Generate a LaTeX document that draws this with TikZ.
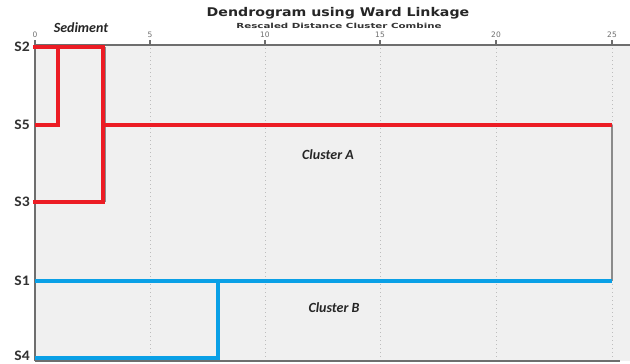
\documentclass[tikz,border=0pt]{standalone}
\usepackage{fontspec}
\setmainfont{Carlito}
\newfontfamily\titlefont{DejaVu Sans}
\definecolor{bggray}{HTML}{F0F0F0}
\definecolor{axisgray}{HTML}{6E6E6E}
\definecolor{gridgray}{HTML}{BDBDBD}
\definecolor{clred}{HTML}{EC1C24}
\definecolor{clblue}{HTML}{0AA0E6}
\tikzset{
  axisline/.style={draw=axisgray,line width=1.8pt},
  gridline/.style={draw=gridgray,line width=1pt,dash pattern=on 1pt off 3pt},
  redlink/.style={draw=clred,line width=3.6pt},
  bluelink/.style={draw=clblue,line width=3.6pt},
  shadowlink/.style={draw=axisgray!80,line width=1.6pt},
  leaflabel/.style={font=\bfseries\fontsize{14.5}{15}\selectfont,text=black!80,anchor=east,inner sep=0pt,xscale=1.08},
  ticklabel/.style={font=\titlefont\fontsize{7.5}{8}\selectfont,text=axisgray,inner sep=0pt},
  clusterlabel/.style={font=\bfseries\itshape\fontsize{14}{15}\selectfont,text=black!85,inner sep=0pt},
}
\begin{document}
\begin{tikzpicture}[x=1pt,y=-1pt]
\useasboundingbox (0,0) rectangle (630,364);
\fill[white] (0,0) rectangle (630,364);
\fill[bggray] (35,45) rectangle (630,361);
% grid
\foreach \v/\xx in {5/150,10/265,15/380,20/496,25/612}{
  \draw[gridline] (\xx,48) -- (\xx,360);
}
% ticks and labels
\foreach \v/\xx in {0/35,5/150,10/265,15/380,20/496,25/612}{
  \draw[draw=axisgray,line width=1.2pt] (\xx,40) -- (\xx,45);
  \node[ticklabel] (t\v) at (\xx,34.5) {\v};
}
% title
\node[font=\titlefont\bfseries\fontsize{12}{14}\selectfont,inner sep=0pt,text=black!85] (title) at (338,13.5) {\scalebox{1.18}[1]{Dendrogram using Ward Linkage}};
\node[font=\titlefont\bfseries\fontsize{7}{8}\selectfont,inner sep=0pt,text=black!80] (subtitle) at (339,26) {\scalebox{1.47}[1]{Rescaled Distance Cluster Combine}};
\node[clusterlabel] (sed) at (81,27.5) {Sediment};
% axes
\draw[axisline] (35,45) -- (630,45);
\draw[axisline] (35,45) -- (35,361);
\draw[axisline] (35,361) -- (620,361);
% leaves
\coordinate (S2) at (35,47);
\coordinate (S5) at (35,125);
\coordinate (S3) at (35,202);
\coordinate (S1) at (35,281);
\coordinate (S4) at (35,358);
\node[leaflabel] (lS2) at (30,47) {S2};
\node[leaflabel] (lS5) at (30,125) {S5};
\node[leaflabel] (lS3) at (30,202) {S3};
\node[leaflabel] (lS1) at (30,281) {S1};
\node[leaflabel] (lS4) at (30,356) {S4};
% merge coordinates
\coordinate (m25a) at (58,47);
\coordinate (m25b) at (58,125);
\coordinate (mAa) at (103,47);
\coordinate (mAb) at (103,202);
\coordinate (mAc) at (103,125);
\coordinate (topA) at (612,125);
\coordinate (topB) at (612,281);
\coordinate (mBa) at (218,281);
\coordinate (mBb) at (218,358);
% gray shadow links
\draw[shadowlink] ([xshift=2.5pt]mAa) -- ([xshift=2.5pt]mAb);
\draw[shadowlink] (topA) -- (topB);
% red cluster
\draw[redlink,line cap=rect] (S2) -- (mAa) -- (mAb) -- (S3);
\draw[redlink] (m25a) -- (m25b) -- (S5);
\draw[redlink] (mAc) -- (topA);
% blue cluster
\draw[bluelink] (S1) -- (topB);
\draw[bluelink] (mBa) -- (mBb) -- (S4);
% cluster labels
\node[clusterlabel] (cA) at (328,155) {Cluster A};
\node[clusterlabel] (cB) at (334,308) {Cluster B};
\end{tikzpicture}
\end{document}
